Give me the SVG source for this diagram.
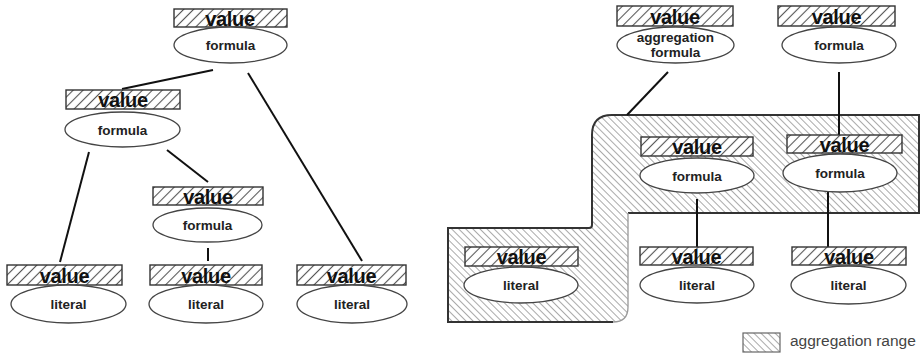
<svg xmlns="http://www.w3.org/2000/svg" width="924" height="354" viewBox="0 0 924 354">
<defs>
<pattern id="valHatch" patternUnits="userSpaceOnUse" width="7" height="7" patternTransform="rotate(-45)">
<rect width="7" height="7" fill="#fff"/>
<line x1="0" y1="3.5" x2="7" y2="3.5" stroke="#555" stroke-width="1.1"/>
</pattern>
<pattern id="aggHatch" patternUnits="userSpaceOnUse" width="5" height="5" patternTransform="rotate(45)">
<rect width="5" height="5" fill="#fff"/>
<line x1="0" y1="2.5" x2="5" y2="2.5" stroke="#aaa" stroke-width="1"/>
</pattern>
</defs>
<style>
.val{fill:url(#valHatch);stroke:#333;stroke-width:1.4}
.ell{fill:#fff;stroke:#444;stroke-width:1.3}
.vt{font-family:"Liberation Sans",Arial,sans-serif;font-weight:bold;font-size:20px;fill:#111;text-anchor:middle;letter-spacing:-0.3px}
.et{font-family:"Liberation Sans",Arial,sans-serif;font-weight:bold;font-size:13.5px;fill:#222;text-anchor:middle}
.con{stroke:#111;stroke-width:2;fill:none}
</style>
<rect width="924" height="354" fill="#fff"/>

<g id="aggregation-range">
<path d="M448,228 L589,228 Q592,228 592,225 L592,135 Q592,115 612,115 L919,115 L919,213 L628,213 L628,307 Q628,322 613,322 L448,322 Z" fill="url(#aggHatch)"/>
<path d="M628,213 L919,213 L919,115 L612,115 Q592,115 592,135 L592,225 Q592,228 589,228 L448,228 L448,322 L613,322" fill="none" stroke="#333" stroke-width="2"/>
<path d="M613,322 Q628,322 628,307 L628,213" fill="none" stroke="#999" stroke-width="1.3"/>
</g>

<g id="connectors">
<line class="con" x1="213" y1="70" x2="122" y2="89"/>
<line class="con" x1="248" y1="73" x2="362" y2="261"/>
<line class="con" x1="89" y1="152" x2="60" y2="262"/>
<line class="con" x1="167" y1="150" x2="208" y2="182"/>
<line class="con" x1="208" y1="248" x2="208" y2="261"/>
<line class="con" x1="668" y1="72" x2="627" y2="115"/>
<line class="con" x1="839" y1="72" x2="839" y2="135"/>
<line class="con" x1="697" y1="199" x2="697" y2="247"/>
<line class="con" x1="828" y1="192" x2="828" y2="247"/>
</g>

<g id="n-top-formula">
<rect class="val" x="174" y="9" width="113" height="18"/>
<text class="vt" x="230" y="25.5">value</text>
<ellipse class="ell" cx="230.5" cy="45" rx="56.5" ry="18"/>
<text class="et" x="230.5" y="50">formula</text>
</g>

<g id="n-mid-formula">
<rect class="val" x="66" y="90" width="114" height="19"/>
<text class="vt" x="123" y="107">value</text>
<ellipse class="ell" cx="122.5" cy="129.5" rx="57.5" ry="17.5"/>
<text class="et" x="122.5" y="134.5">formula</text>
</g>

<g id="n-low-formula">
<rect class="val" x="153" y="187" width="110" height="18"/>
<text class="vt" x="208" y="203.5">value</text>
<ellipse class="ell" cx="207.5" cy="225" rx="54.5" ry="17"/>
<text class="et" x="207.5" y="230">formula</text>
</g>

<g id="n-literal-1">
<rect class="val" x="7" y="265" width="115" height="20"/>
<text class="vt" x="64.5" y="282.5">value</text>
<ellipse class="ell" cx="68.5" cy="304" rx="57.5" ry="19"/>
<text class="et" x="68.5" y="309">literal</text>
</g>

<g id="n-literal-2">
<rect class="val" x="150" y="265" width="112" height="20"/>
<text class="vt" x="206" y="282.5">value</text>
<ellipse class="ell" cx="206" cy="304" rx="57" ry="19"/>
<text class="et" x="206" y="309">literal</text>
</g>

<g id="n-literal-3">
<rect class="val" x="297" y="265" width="109" height="20"/>
<text class="vt" x="351.5" y="282.5">value</text>
<ellipse class="ell" cx="352" cy="304" rx="55" ry="19"/>
<text class="et" x="352" y="309">literal</text>
</g>

<g id="n-aggregation-formula">
<rect class="val" x="617" y="6" width="116" height="20"/>
<text class="vt" x="675" y="23.5">value</text>
<ellipse class="ell" cx="675.5" cy="45" rx="58.5" ry="18"/>
<text class="et" x="675.5" y="42">aggregation</text>
<text class="et" x="675.5" y="57">formula</text>
</g>

<g id="n-right-top-formula">
<rect class="val" x="778" y="6" width="117" height="20"/>
<text class="vt" x="836.5" y="23.5">value</text>
<ellipse class="ell" cx="839" cy="45" rx="57" ry="18"/>
<text class="et" x="839" y="50">formula</text>
</g>

<g id="n-range-formula-1">
<rect class="val" x="641" y="137" width="112" height="19"/>
<text class="vt" x="697" y="154">value</text>
<ellipse class="ell" cx="697" cy="175.5" rx="57" ry="17.5"/>
<text class="et" x="697" y="180.5">formula</text>
</g>

<g id="n-range-formula-2">
<rect class="val" x="787" y="135" width="115" height="18"/>
<text class="vt" x="844.5" y="151.5">value</text>
<ellipse class="ell" cx="840" cy="173" rx="57" ry="19"/>
<text class="et" x="840" y="178">formula</text>
</g>

<g id="n-range-literal">
<rect class="val" x="465" y="247" width="113" height="19"/>
<text class="vt" x="521.5" y="264">value</text>
<ellipse class="ell" cx="521" cy="285" rx="57" ry="18"/>
<text class="et" x="521" y="290">literal</text>
</g>

<g id="n-literal-b">
<rect class="val" x="640" y="247" width="113" height="18"/>
<text class="vt" x="696.5" y="263.5">value</text>
<ellipse class="ell" cx="697" cy="285" rx="57" ry="18"/>
<text class="et" x="697" y="290">literal</text>
</g>

<g id="n-literal-c">
<rect class="val" x="792" y="247" width="114" height="18"/>
<text class="vt" x="849" y="263.5">value</text>
<ellipse class="ell" cx="848.5" cy="285" rx="57.5" ry="19"/>
<text class="et" x="848.5" y="290">literal</text>
</g>

<g id="legend">
<rect x="743" y="333" width="37" height="19" fill="url(#aggHatch)" stroke="#666" stroke-width="1.2"/>
<text x="790" y="346" font-family="Liberation Sans,Arial,sans-serif" font-size="15.5" fill="#444">aggregation range</text>
</g>
</svg>
